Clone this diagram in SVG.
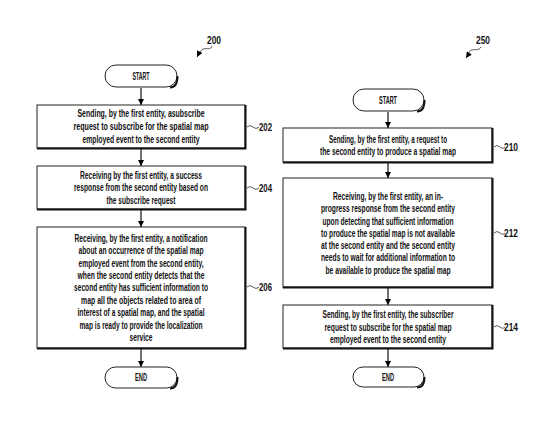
<svg xmlns="http://www.w3.org/2000/svg" width="557" height="438" viewBox="0 0 557 438">
<defs>
<marker id="ah" viewBox="0 0 10 10" refX="10" refY="5" markerWidth="6" markerHeight="7" orient="auto" markerUnits="userSpaceOnUse">
<path d="M0,0 L10,5 L0,10 z" fill="#000"/>
</marker>
<marker id="ref" viewBox="0 0 10 10" refX="10" refY="5" markerWidth="7" markerHeight="6" orient="auto" markerUnits="userSpaceOnUse">
<path d="M0,0 L10,5 L0,10 z" fill="#000"/>
</marker>
</defs>
<style>
text{font-family:"Liberation Sans",Arial,sans-serif;font-size:10px;fill:#111;text-anchor:middle;font-weight:bold}
.box{fill:#fff;stroke:#222;stroke-width:1}
.sh{fill:none;stroke:#111;stroke-width:2}
.conn{stroke:#111;stroke-width:1.2;fill:none}
.sq{stroke:#333;stroke-width:0.8;fill:none}
.lab{text-anchor:start;font-size:10px}
</style>
<rect width="557" height="438" fill="#fff"/>

<g id="connectors">
<line class="conn" x1="141" y1="88" x2="141" y2="105" marker-end="url(#ah)"/>
<line class="conn" x1="141" y1="149" x2="141" y2="166" marker-end="url(#ah)"/>
<line class="conn" x1="141" y1="210" x2="141" y2="227" marker-end="url(#ah)"/>
<line class="conn" x1="141" y1="349" x2="141" y2="367" marker-end="url(#ah)"/>
<line class="conn" x1="388" y1="112" x2="388" y2="128" marker-end="url(#ah)"/>
<line class="conn" x1="388" y1="163" x2="388" y2="178" marker-end="url(#ah)"/>
<line class="conn" x1="388" y1="288" x2="388" y2="305" marker-end="url(#ah)"/>
<line class="conn" x1="388" y1="349" x2="388" y2="367" marker-end="url(#ah)"/>
</g>

<g id="ref200">
<text class="lab" x="207" y="44" textLength="14" lengthAdjust="spacingAndGlyphs">200</text>
<path class="sq" d="M212,46 C211,50 207,48 203,49 C201,50 199,53 197,57" marker-end="url(#ref)"/>
</g>
<g id="ref250">
<text class="lab" x="476" y="44" textLength="14" lengthAdjust="spacingAndGlyphs">250</text>
<path class="sq" d="M481,47 C479,51 475,49 471,50 C469,52 468,55 466,58" marker-end="url(#ref)"/>
</g>

<g id="start1">
<rect class="box" x="105" y="65" width="72" height="22" rx="11"/>
<path class="sh" d="M170,87.5 Q177.5,87.5 177.5,76"/>
<text x="141" y="80" textLength="17" lengthAdjust="spacingAndGlyphs">START</text>
</g>

<g id="n202">
<rect class="box" x="37" y="105" width="208" height="43"/>
<path class="sh" d="M245.5,105 V148.5 H37"/>
<text x="141" y="116.5" textLength="127" lengthAdjust="spacingAndGlyphs">Sending, by the first entity, asubscribe</text>
<text x="141" y="129.5" textLength="135" lengthAdjust="spacingAndGlyphs">request to subscribe for the spatial map</text>
<text x="141" y="142.5" textLength="117" lengthAdjust="spacingAndGlyphs">employed event to the second entity</text>
<path class="sq" d="M247,127 q3,-3 6,0 t6,0"/>
<text class="lab" x="259" y="131" textLength="13" lengthAdjust="spacingAndGlyphs">202</text>
</g>

<g id="n204">
<rect class="box" x="37" y="166" width="208" height="43"/>
<path class="sh" d="M245.5,166 V209.5 H37"/>
<text x="141" y="178.5" textLength="122" lengthAdjust="spacingAndGlyphs">Receiving by the first entity, a success</text>
<text x="141" y="191" textLength="134" lengthAdjust="spacingAndGlyphs">response from the second entity based on</text>
<text x="141" y="203.5" textLength="69" lengthAdjust="spacingAndGlyphs">the subscribe request</text>
<path class="sq" d="M247,188 q3,-3 6,0 t6,0"/>
<text class="lab" x="259" y="192" textLength="13" lengthAdjust="spacingAndGlyphs">204</text>
</g>

<g id="n206">
<rect class="box" x="37" y="227" width="208" height="121"/>
<path class="sh" d="M245.5,227 V348.5 H37"/>
<text x="141" y="241.8" textLength="133" lengthAdjust="spacingAndGlyphs">Receiving, by the first entity, a notification</text>
<text x="141" y="254.2" textLength="125" lengthAdjust="spacingAndGlyphs">about an occurrence of the spatial map</text>
<text x="141" y="266.8" textLength="125" lengthAdjust="spacingAndGlyphs">employed event from the second entity,</text>
<text x="141" y="279.2" textLength="127" lengthAdjust="spacingAndGlyphs">when the second entity detects that the</text>
<text x="141" y="291.2" textLength="134" lengthAdjust="spacingAndGlyphs">second entity has sufficient information to</text>
<text x="141" y="303.5" textLength="120" lengthAdjust="spacingAndGlyphs">map all the objects related to area of</text>
<text x="141" y="315.8" textLength="127" lengthAdjust="spacingAndGlyphs">interest of a spatial map, and the spatial</text>
<text x="141" y="328.5" textLength="123" lengthAdjust="spacingAndGlyphs">map is ready to provide the localization</text>
<text x="141" y="340.8" textLength="23" lengthAdjust="spacingAndGlyphs">service</text>
<path class="sq" d="M247,287 q3,-3 6,0 t6,0"/>
<text class="lab" x="259" y="291" textLength="13" lengthAdjust="spacingAndGlyphs">206</text>
</g>

<g id="end1">
<rect class="box" x="105" y="367" width="72" height="21" rx="10.5"/>
<path class="sh" d="M170,388.5 Q177.5,388.5 177.5,377"/>
<text x="141" y="381" textLength="12" lengthAdjust="spacingAndGlyphs">END</text>
</g>

<g id="start2">
<rect class="box" x="353" y="89" width="71" height="22" rx="11"/>
<path class="sh" d="M417,111.5 Q424.5,111.5 424.5,100"/>
<text x="388" y="104" textLength="18" lengthAdjust="spacingAndGlyphs">START</text>
</g>

<g id="n210">
<rect class="box" x="283" y="128" width="209" height="34"/>
<path class="sh" d="M492.5,128 V162.5 H283"/>
<text x="388" y="142.5" textLength="118" lengthAdjust="spacingAndGlyphs">Sending, by the first entity, a request to</text>
<text x="388" y="154.5" textLength="136" lengthAdjust="spacingAndGlyphs">the second entity to produce a spatial map</text>
<path class="sq" d="M494,147 q3,-3 6,0 t5,0"/>
<text class="lab" x="504" y="151" textLength="14" lengthAdjust="spacingAndGlyphs">210</text>
</g>

<g id="n212">
<rect class="box" x="283" y="178" width="209" height="109"/>
<path class="sh" d="M492.5,178 V287.5 H283"/>
<text x="388" y="199.5" textLength="110" lengthAdjust="spacingAndGlyphs">Receiving, by the first entity, an in-</text>
<text x="388" y="211.5" textLength="134" lengthAdjust="spacingAndGlyphs">progress response from the second entity</text>
<text x="388" y="224.5" textLength="131" lengthAdjust="spacingAndGlyphs">upon detecting that sufficient information</text>
<text x="388" y="236.5" textLength="134" lengthAdjust="spacingAndGlyphs">to produce the spatial map is not available</text>
<text x="388" y="249" textLength="134" lengthAdjust="spacingAndGlyphs">at the second entity and the second entity</text>
<text x="388" y="261" textLength="134" lengthAdjust="spacingAndGlyphs">needs to wait for additional information to</text>
<text x="388" y="273.5" textLength="125" lengthAdjust="spacingAndGlyphs">be available to produce the spatial map</text>
<path class="sq" d="M494,233 q3,-3 6,0 t5,0"/>
<text class="lab" x="504" y="237" textLength="14" lengthAdjust="spacingAndGlyphs">212</text>
</g>

<g id="n214">
<rect class="box" x="283" y="305" width="209" height="43"/>
<path class="sh" d="M492.5,305 V348.5 H283"/>
<text x="388" y="317.5" textLength="131" lengthAdjust="spacingAndGlyphs">Sending, by the first entity, the subscriber</text>
<text x="388" y="330.5" textLength="127" lengthAdjust="spacingAndGlyphs">request to subscribe for the spatial map</text>
<text x="388" y="342.5" textLength="116" lengthAdjust="spacingAndGlyphs">employed event to the second entity</text>
<path class="sq" d="M494,327 q3,-3 6,0 t5,0"/>
<text class="lab" x="504" y="331" textLength="14" lengthAdjust="spacingAndGlyphs">214</text>
</g>

<g id="end2">
<rect class="box" x="353" y="367" width="71" height="20" rx="10"/>
<path class="sh" d="M417,387.5 Q424.5,387.5 424.5,377"/>
<text x="388" y="381" textLength="12" lengthAdjust="spacingAndGlyphs">END</text>
</g>
</svg>
